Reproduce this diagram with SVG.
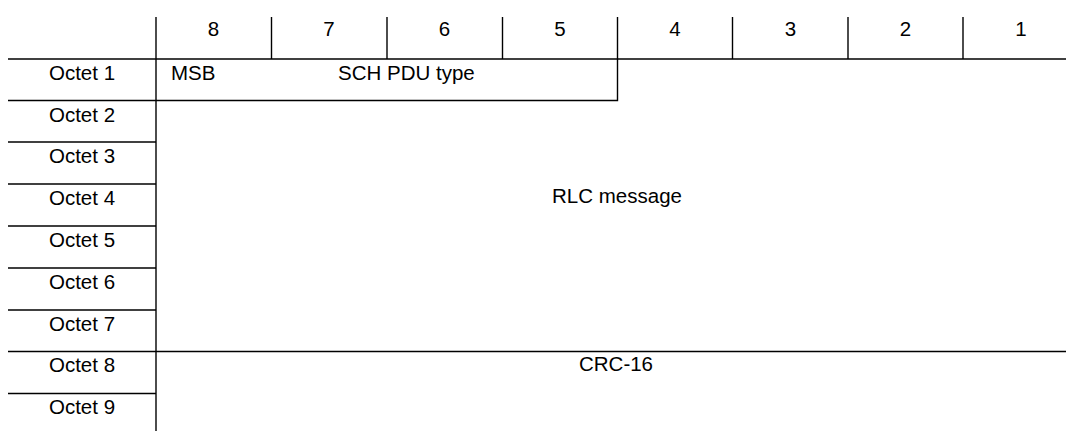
<svg xmlns="http://www.w3.org/2000/svg" width="1066" height="431" viewBox="0 0 1066 431">
<style>
text{font-family:"Liberation Sans",Arial,sans-serif;font-size:20.5px;fill:#000}
.c{text-anchor:middle}
line,path{stroke:#000;stroke-width:1.4;fill:none}
</style>
<rect width="1066" height="431" fill="#fff"/>
<g id="connectors">
<line x1="156" y1="17" x2="156" y2="431"/>
<line x1="271.5" y1="17" x2="271.5" y2="59"/>
<line x1="387" y1="17" x2="387" y2="59"/>
<line x1="502.5" y1="17" x2="502.5" y2="59"/>
<line x1="732.5" y1="17" x2="732.5" y2="59"/>
<line x1="848" y1="17" x2="848" y2="59"/>
<line x1="963" y1="17" x2="963" y2="59"/>
<line x1="8" y1="59" x2="1066" y2="59"/>
<path d="M617.5 17V100.5H156"/>
<line x1="8" y1="100.5" x2="156" y2="100.5"/>
<line x1="8" y1="142" x2="156" y2="142"/>
<line x1="8" y1="184" x2="156" y2="184"/>
<line x1="8" y1="226" x2="156" y2="226"/>
<line x1="8" y1="268" x2="156" y2="268"/>
<line x1="8" y1="310" x2="156" y2="310"/>
<line x1="8" y1="351.5" x2="1066" y2="351.5"/>
<line x1="8" y1="393.5" x2="156" y2="393.5"/>
</g>
<g id="header">
<text class="c" x="213.5" y="36">8</text>
<text class="c" x="329" y="36">7</text>
<text class="c" x="444.5" y="36">6</text>
<text class="c" x="560" y="36">5</text>
<text class="c" x="675" y="36">4</text>
<text class="c" x="790.5" y="36">3</text>
<text class="c" x="905.5" y="36">2</text>
<text class="c" x="1021" y="36">1</text>
</g>
<g id="labels">
<text class="c" x="82" y="80">Octet 1</text>
<text class="c" x="82" y="121.5">Octet 2</text>
<text class="c" x="82" y="163">Octet 3</text>
<text class="c" x="82" y="205">Octet 4</text>
<text class="c" x="82" y="247">Octet 5</text>
<text class="c" x="82" y="289">Octet 6</text>
<text class="c" x="82" y="331">Octet 7</text>
<text class="c" x="82" y="372">Octet 8</text>
<text class="c" x="82" y="414">Octet 9</text>
</g>
<g id="sch-pdu-type">
<text x="171" y="80">MSB</text>
<text x="338" y="80">SCH PDU type</text>
</g>
<g id="rlc-message">
<text class="c" x="617" y="203">RLC message</text>
</g>
<g id="crc-16">
<text class="c" x="616" y="371">CRC-16</text>
</g>
</svg>
